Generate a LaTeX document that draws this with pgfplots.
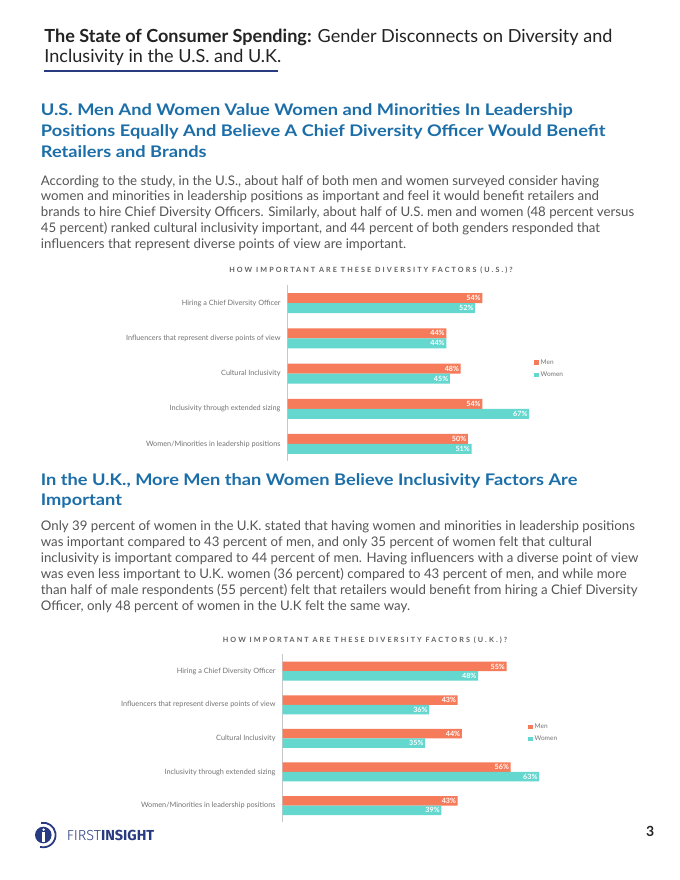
\documentclass[border=0pt]{standalone}
\usepackage{pgfplots}
\pgfplotsset{compat=1.18}
\usepackage{pgfplotstable}
\usepackage{fontspec}
\setmainfont{Lato}
\newfontfamily\logofont{Fira Sans}
\newfontfamily\logolight{Fira Sans Light}

\definecolor{menc}{RGB}{246,123,90}
\definecolor{womenc}{RGB}{100,215,207}
\definecolor{headblue}{RGB}{28,110,168}
\definecolor{titlec}{RGB}{35,35,35}
\definecolor{bodyc}{RGB}{85,85,85}
\definecolor{labc}{RGB}{115,115,115}
\definecolor{navy}{RGB}{40,58,128}

% y: 0 = bottom category, 4 = top category
\pgfplotstableread{
y men women
0 50 51
1 54 67
2 48 45
3 44 44
4 54 52
}\usdata
\pgfplotstableread{
y men women
0 43 39
1 56 63
2 44 35
3 43 36
4 55 48
}\ukdata

\newcommand{\bodyfont}{\fontsize{13.25bp}{16bp}\selectfont}
\newcommand{\headfont}{\bfseries\fontsize{16bp}{21bp}\selectfont\addfontfeature{FakeStretch=1.14}}

\pgfplotsset{
  factors/.style={
    xbar, xmin=0, xmax=70,
    scale only axis, clip=false,
    axis x line=none, axis y line*=left,
    y axis line style={draw=black!22, line width=0.7bp},
    ytick={0,...,4},
    yticklabels={Women/Minorities in leadership positions,
      Inclusivity through extended sizing,
      Cultural Inclusivity,
      Influencers that represent diverse points of view,
      Hiring a Chief Diversity Officer},
    major tick length=0pt,
    yticklabel style={font=\fontsize{7.3bp}{8bp}\selectfont, text=labc,
      inner sep=0pt, xshift=-7bp},
    /pgf/number format/assume math mode=true,
    point meta=x,
    nodes near coords={\pgfmathprintnumber{\pgfplotspointmeta}\%},
    nodes near coords align={anchor=east},
    every node near coord/.append style={text=white, inner sep=1.5bp,
      font=\bfseries\fontsize{7.2bp}{8bp}\selectfont},
    legend image code/.code={\fill[##1] (0bp,-2.2bp) rectangle (4.5bp,2.2bp);},
    legend style={draw=none, fill=none, anchor=north west, inner sep=0pt,
      row sep=2bp, font=\fontsize{6.5bp}{7bp}\selectfont, text=labc},
    legend cell align=left,
  }
}

\begin{document}
\begin{tikzpicture}
\useasboundingbox[fill=white] (0,0) rectangle (680bp,-880bp);

\begin{scope}[x=1bp,y=-1bp]
% page title
\node[anchor=base west, inner sep=0pt, text=titlec, font=\fontsize{18.05bp}{20bp}\selectfont]
  at (44.3,42.7) {\textbf{The State of Consumer Spending:} Gender Disconnects on Diversity and};
\node[anchor=base west, inner sep=0pt, text=titlec, font=\fontsize{18.05bp}{20bp}\selectfont]
  at (44.3,62.7) {Inclusivity in the U.S. and U.K.};
\fill[navy] (44.3,69.5) rectangle (278,72);

% section 1
\foreach \t [count=\i] in {
  {U.S. Men And Women Value Women and Minorities In Leadership},
  {Positions Equally And Believe A Chief Diversity Officer Would Benefit},
  {Retailers and Brands}}
  \node[anchor=base west, inner sep=0pt, text=headblue, font=\headfont]
    at (40.7,115+21.35*\i-21.35) {\t};
\foreach \t [count=\i] in {
  {According to the study, in the U.S., about half of both men and women surveyed consider having},
  {women and minorities in leadership positions as important and feel it would benefit retailers and},
  {brands to hire Chief Diversity Officers. Similarly, about half of U.S. men and women (48 percent versus},
  {45 percent) ranked cultural inclusivity important, and 44 percent of both genders responded that},
  {influencers that represent diverse points of view are important.}}
  \node[anchor=base west, inner sep=0pt, text=bodyc, font=\bodyfont]
    at (40.7,185+15.95*\i-15.95) {\t};

% section 2
\node[anchor=base west, inner sep=0pt, text=headblue, font=\headfont]
  at (40.7,485) {In the U.K., More Men than Women Believe Inclusivity Factors Are};
\node[anchor=base west, inner sep=0pt, text=headblue, font=\headfont]
  at (40.7,505) {Important};
\foreach \t [count=\i] in {
  {Only 39 percent of women in the U.K. stated that having women and minorities in leadership positions},
  {was important compared to 43 percent of men, and only 35 percent of women felt that cultural},
  {inclusivity is important compared to 44 percent of men. Having influencers with a diverse point of view},
  {was even less important to U.K. women (36 percent) compared to 43 percent of men, and while more},
  {than half of male respondents (55 percent) felt that retailers would benefit from hiring a Chief Diversity},
  {Officer, only 48 percent of women in the U.K felt the same way.}}
  \node[anchor=base west, inner sep=0pt, text=bodyc, font=\bodyfont]
    at (40.7,530+16*\i-16) {\t};

% chart titles
\node[text=black!62, font=\bfseries\fontsize{7.2bp}{8bp}\selectfont\addfontfeature{LetterSpace=29}]
  at (371,270) {HOW IMPORTANT ARE THESE DIVERSITY FACTORS (U.S.)?};
\node[text=black!62, font=\bfseries\fontsize{7.2bp}{8bp}\selectfont\addfontfeature{LetterSpace=29}]
  at (365,640) {HOW IMPORTANT ARE THESE DIVERSITY FACTORS (U.K.)?};

% footer
\node[anchor=base west, inner sep=0pt, text=navy, font=\fontsize{14.5bp}{15bp}\selectfont]
  at (66.7,840.7) {{\logolight FIRST}{\logofont\bfseries INSIGHT}};
\node[inner sep=0pt, text=titlec, font=\bfseries\fontsize{14bp}{15bp}\selectfont]
  at (650.3,831.3) {3};
\end{scope}

% logo mark
\fill[navy] (43.3bp,-835bp) circle (8.3bp);
\draw[navy, line width=1.8bp] (43.3bp,-835bp) ++(100:12.3bp) arc (100:-105:12.3bp);
\fill[white] (43.6bp,-829.6bp) circle (1.3bp);
\fill[white] (42.3bp,-832.3bp) rectangle (44.9bp,-841.5bp);

% U.S. chart
\begin{axis}[factors,
  at={(287.7bp,-460.5bp)}, anchor=south west,
  width=252.3bp, height=175.6bp,
  ymin=-0.47, ymax=4.52,
  legend style={at={(0.976,0.587)}},
]
\addplot[fill=menc, draw=none, bar width=10bp, bar shift=5bp]
  table[x=men, y=y] {\usdata};
\addplot[fill=womenc, draw=none, bar width=10bp, bar shift=-5bp]
  table[x=women, y=y] {\usdata};
\legend{Men, Women}
\end{axis}

% U.K. chart
\begin{axis}[factors,
  at={(282.7bp,-821.7bp)}, anchor=south west,
  width=284.9bp, height=167.3bp,
  ymin=-0.48, ymax=4.5,
  legend style={at={(0.861,0.597)}},
]
\addplot[fill=menc, draw=none, bar width=9.5bp, bar shift=4.75bp]
  table[x=men, y=y] {\ukdata};
\addplot[fill=womenc, draw=none, bar width=9.5bp, bar shift=-4.75bp]
  table[x=women, y=y] {\ukdata};
\legend{Men, Women}
\end{axis}
\end{tikzpicture}
\end{document}
